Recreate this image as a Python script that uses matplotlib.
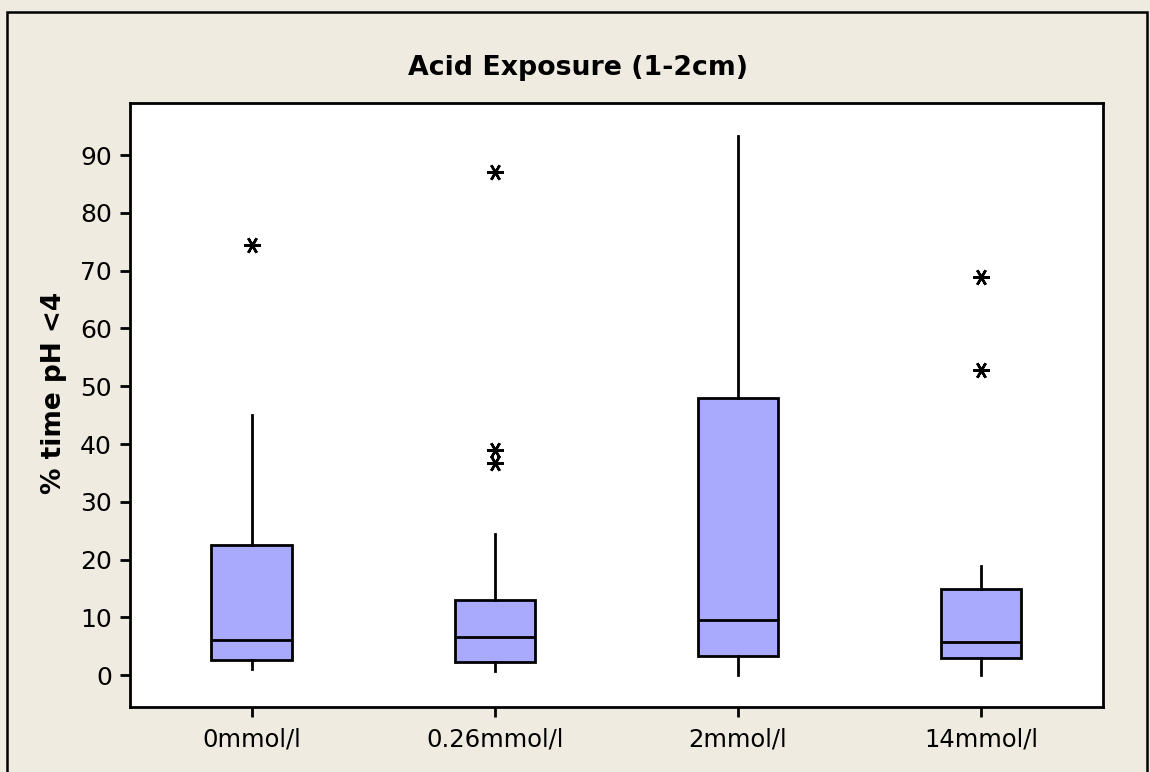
import numpy as np
import matplotlib
matplotlib.use("Agg")
import matplotlib.pyplot as plt
from matplotlib.patches import Rectangle

# Values (Minitab-style boxplot)
groups = ["0mmol/l", "0.26mmol/l", "2mmol/l", "14mmol/l"]
q1 = [2.6, 2.3, 3.3, 2.9]
median = [6.1, 6.6, 9.5, 5.7]
q3 = [22.5, 13.0, 47.9, 15.0]
whisker_low = [1.0, 0.7, 0.0, 0.0]
whisker_high = [45.0, 24.4, 93.3, 18.9]
outliers = [[74.4], [87.0, 38.9, 36.7], [], [68.9, 52.8]]

bg = "#EFEBE1"
box_color = "#A9AAFE"

fig = plt.figure(figsize=(11.5, 7.72), dpi=100, facecolor=bg)
ax = fig.add_axes([0.113, 0.0842, 0.846, 0.7824])

stats = []
for i, name in enumerate(groups):
    stats.append(dict(label=name, med=median[i], q1=q1[i], q3=q3[i],
                      whislo=whisker_low[i], whishi=whisker_high[i],
                      fliers=outliers[i]))

ax.bxp(stats, positions=np.arange(1, len(groups) + 1), widths=0.33,
       patch_artist=True, showcaps=False,
       boxprops=dict(facecolor=box_color, edgecolor="black", linewidth=2),
       medianprops=dict(color="black", linewidth=2),
       whiskerprops=dict(color="black", linewidth=2),
       flierprops=dict(marker=(6, 2, 90), markersize=12, markeredgewidth=1.8,
                       markeredgecolor="black", linestyle="none"))

ax.set_xlim(0.5, 4.5)
ax.set_ylim(-5.5, 99)
ax.set_yticks(np.arange(0, 91, 10))
ax.set_xticklabels(groups)

for side in ["top", "right", "left", "bottom"]:
    ax.spines[side].set_linewidth(2)
ax.tick_params(axis="both", direction="out", length=7, width=2, pad=6)
ax.tick_params(axis="x", labelsize=17.5, pad=8)
ax.tick_params(axis="y", labelsize=18)

ax.set_ylabel("% time pH <4", fontsize=19, fontweight="bold")
ax.yaxis.set_label_coords(-0.065, 0.52)
fig.text(0.503, 0.912, "Acid Exposure (1-2cm)", ha="center", va="center",
         fontsize=19.3, fontweight="bold")

# outer frame around the figure
fig.patches.append(Rectangle((0.006, -0.01), 0.991, 0.995, transform=fig.transFigure,
                             fill=False, edgecolor="black", linewidth=1.8))

fig.savefig("out.png", dpi=100, facecolor=bg)
